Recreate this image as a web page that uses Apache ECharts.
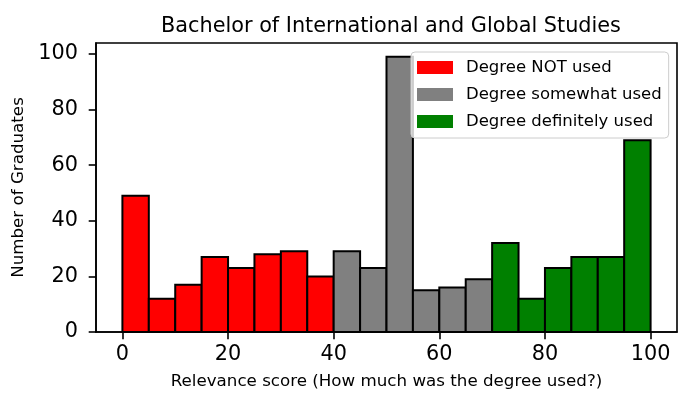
<!DOCTYPE html>
<html>
<head>
<meta charset="utf-8">
<script src="https://cdn.jsdelivr.net/npm/echarts@6/dist/echarts.min.js"></script>
<style>html,body{margin:0;padding:0;background:#fff;}#chart{width:691px;height:408px;}</style>
</head>
<body>
<div id="chart"></div>
<script>
const binEdges = [0, 5, 10, 15, 20, 25, 30, 35, 40, 45, 50, 55, 60, 65, 70, 75, 80, 85, 90, 95, 100];
const counts = [49, 12, 17, 27, 23, 28, 29, 20, 29, 23, 99, 15, 16, 19, 32, 12, 23, 27, 27, 69];
const binGroup = [0, 0, 0, 0, 0, 0, 0, 0, 1, 1, 1, 1, 1, 1, 2, 2, 2, 2, 2, 2];
const groupNames = ['Degree NOT used', 'Degree somewhat used', 'Degree definitely used'];
const groupColors = ['#ff0000', '#808080', '#008000'];
const xTicks = [0, 20, 40, 60, 80, 100];
const yTicks = [0, 20, 40, 60, 80, 100];

const FONT = 'DejaVu Sans';
const chart = echarts.init(document.getElementById('chart'), null, {renderer: 'canvas'});

function renderItem(params, api) {
  const x0 = api.value(0), x1 = api.value(1), v = api.value(2);
  const p0 = api.coord([x0, v]);
  const p1 = api.coord([x1, 0]);
  return {
    type: 'rect',
    shape: {x: p0[0], y: p0[1], width: p1[0] - p0[0], height: p1[1] - p0[1]},
    style: {fill: api.visual('color'), stroke: '#000', lineWidth: 2}
  };
}

const series = groupNames.map((name, g) => {
  const data = [];
  for (let i = 0; i < counts.length; i++) {
    if (binGroup[i] === g) data.push([binEdges[i], binEdges[i + 1], counts[i]]);
  }
  return {
    type: 'custom', name: name, renderItem: renderItem,
    itemStyle: {color: groupColors[g]},
    encode: {x: [0, 1], y: 2},
    data: data, z: 2
  };
});

chart.setOption({
  animation: false,
  title: {
    text: 'Bachelor of International and Global Studies',
    left: 386, textAlign: 'center', top: 11,
    textStyle: {fontFamily: FONT, fontSize: 20.8, fontWeight: 'normal', color: '#000'}
  },
  legend: {
    orient: 'vertical', left: 411, top: 52,
    padding: [7, 7, 8, 6],
    itemWidth: 36, itemHeight: 13, itemGap: 10,
    icon: 'rect',
    backgroundColor: 'rgba(255,255,255,0.8)',
    borderColor: '#cccccc', borderWidth: 1, borderRadius: 4,
    itemStyle: {borderWidth: 0},
    textStyle: {fontFamily: FONT, fontSize: 16.5, color: '#000', lineHeight: 14, padding: [0, 0, 0, 8]},
    data: groupNames
  },
  grid: {
    left: 96, right: 14, top: 43, bottom: 76,
    show: true, borderColor: '#000', borderWidth: 1.6, backgroundColor: 'transparent'
  },
  xAxis: {
    type: 'value', min: -5, max: 105,
    name: 'Relevance score (How much was the degree used?)',
    nameLocation: 'middle', nameGap: 41,
    nameTextStyle: {fontFamily: FONT, fontSize: 16.7, color: '#000'},
    axisLine: {show: true, onZero: false, lineStyle: {color: '#000', width: 1.6}},
    axisTick: {show: true, length: 7.3, lineStyle: {color: '#000', width: 1.6}, customValues: xTicks},
    axisLabel: {fontFamily: FONT, fontSize: 20.8, color: '#000', margin: 12, customValues: xTicks},
    splitLine: {show: false}
  },
  yAxis: {
    type: 'value', min: 0, max: 103.95,
    name: 'Number of Graduates',
    nameLocation: 'middle', nameGap: 66,
    nameTextStyle: {fontFamily: FONT, fontSize: 16.7, color: '#000'},
    axisLine: {show: true, onZero: false, lineStyle: {color: '#000', width: 1.6}},
    axisTick: {show: true, length: 7.3, lineStyle: {color: '#000', width: 1.6}, customValues: yTicks},
    axisLabel: {fontFamily: FONT, fontSize: 20.8, color: '#000', margin: 18, customValues: yTicks},
    splitLine: {show: false}
  },
  series: series
});
</script>
</body>
</html>
